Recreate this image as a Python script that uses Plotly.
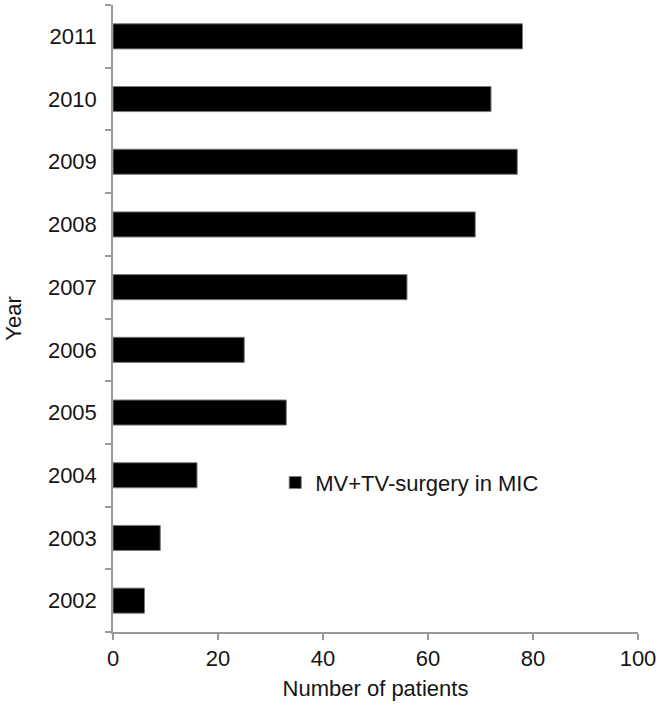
import plotly.graph_objects as go

years = ["2002", "2003", "2004", "2005", "2006", "2007", "2008", "2009", "2010", "2011"]
patients = [6, 9, 16, 33, 25, 56, 69, 77, 72, 78]
series_name = "MV+TV-surgery in MIC"
x_ticks = [0, 20, 40, 60, 80, 100]

FONT = "Liberation Sans, Arial, Helvetica, sans-serif"
AXIS = "#9a9a9a"
TXT = "#151515"

fig = go.Figure(
    go.Bar(
        x=patients,
        y=years,
        orientation="h",
        name=series_name,
        marker=dict(color="#000000", line=dict(color="#7a7a7a", width=1)),
        showlegend=True,
    )
)

fig.update_layout(
    width=661,
    height=725,
    margin=dict(l=113, r=23, t=5, b=93),
    paper_bgcolor="white",
    plot_bgcolor="white",
    font=dict(family=FONT, size=22, color=TXT),
    bargap=0.6,
    legend=dict(
        x=0.309,
        y=0.238,
        xanchor="left",
        yanchor="middle",
        bgcolor="rgba(0,0,0,0)",
        borderwidth=0,
        font=dict(size=22, family=FONT, color=TXT),
        itemwidth=30,
    ),
)

fig.update_xaxes(
    range=[0, 100],
    tickvals=x_ticks,
    ticktext=[str(v) for v in x_ticks],
    showgrid=False,
    zeroline=False,
    showline=True,
    linecolor=AXIS,
    linewidth=1.5,
    ticks="outside",
    ticklen=6,
    tickcolor=AXIS,
    tickwidth=1.5,
    tickfont=dict(size=22, family=FONT, color=TXT),
    title=dict(text="Number of patients", standoff=10,
               font=dict(size=22, family=FONT, color=TXT)),
)

fig.update_yaxes(
    type="category",
    categoryorder="array",
    categoryarray=years,
    showgrid=False,
    zeroline=False,
    showline=True,
    linecolor=AXIS,
    linewidth=1.5,
    ticks="outside",
    tickson="boundaries",
    ticklen=6,
    tickcolor=AXIS,
    tickwidth=1.5,
    ticklabelstandoff=10,
    tickfont=dict(size=22, family=FONT, color=TXT),
    title=dict(text="Year", standoff=20,
               font=dict(size=22, family=FONT, color=TXT)),
)

fig.write_html(
    "out.html",
    config={"displayModeBar": False},
    post_script="document.body.style.margin='0';document.body.style.padding='0';",
)
